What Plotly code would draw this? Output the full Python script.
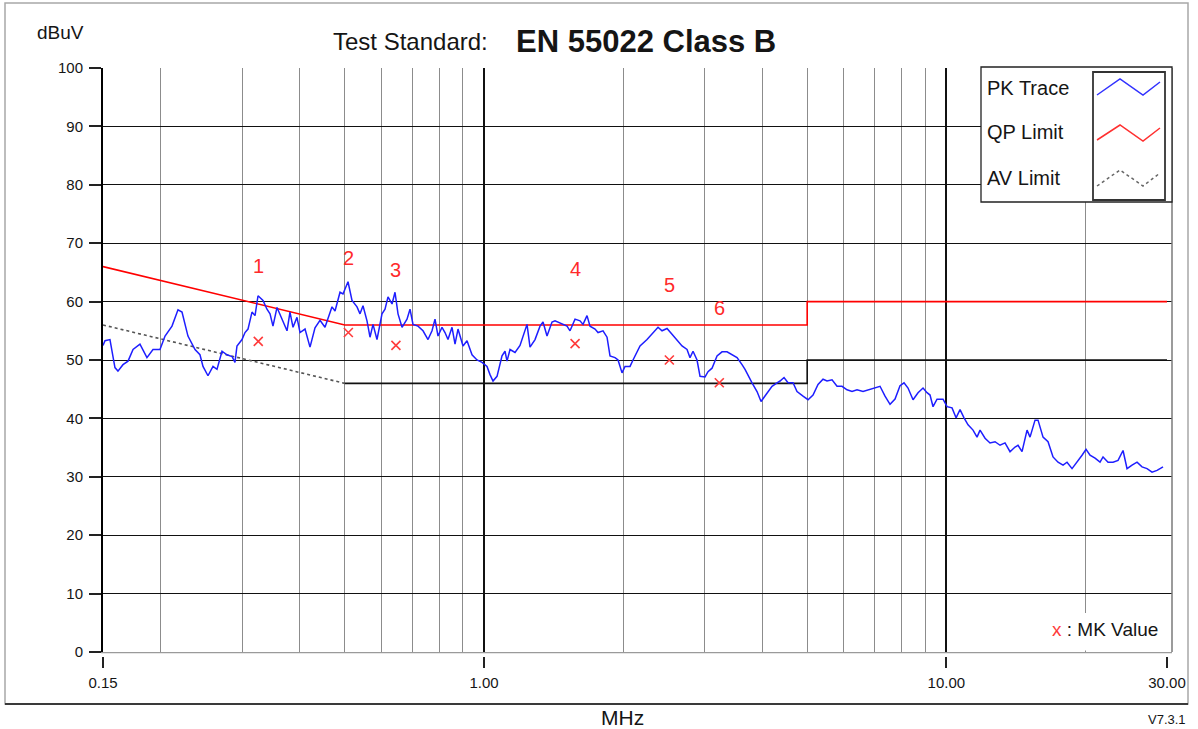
import math
import plotly.graph_objects as go

# ---------------- data ----------------
pk_freq_mhz = [
    0.15, 0.1515, 0.1553, 0.1592, 0.1616, 0.1657, 0.1699, 0.1742, 0.1803, 0.1867,
    0.1924, 0.1992, 0.2043, 0.2115, 0.2179, 0.2223, 0.2290, 0.2372, 0.2431, 0.2468,
    0.2530, 0.2594, 0.2646, 0.2713, 0.2781, 0.2852, 0.2894, 0.2923, 0.2997, 0.3042,
    0.3088, 0.3150, 0.3198, 0.3246, 0.3328, 0.3394, 0.3446, 0.3497, 0.3568, 0.3658,
    0.3750, 0.3806, 0.3864, 0.3941, 0.4001, 0.4102, 0.4205, 0.4311, 0.4420, 0.4531,
    0.4692, 0.4763, 0.4883, 0.4956, 0.5081, 0.5183, 0.5314, 0.5394, 0.5475, 0.5585,
    0.5669, 0.5755, 0.5870, 0.6018, 0.6109, 0.6201, 0.6326, 0.6421, 0.6518, 0.6649,
    0.6816, 0.6919, 0.7023, 0.7200, 0.7382, 0.7568, 0.7720, 0.7836, 0.7954, 0.8114,
    0.8236, 0.8360, 0.8529, 0.8657, 0.8787, 0.9009, 0.9190, 0.9422, 0.9659, 0.9903,
    1.0152, 1.0305, 1.0460, 1.0671, 1.0940, 1.1105, 1.1216, 1.1385, 1.1672, 1.1966,
    1.2146, 1.2390, 1.2577, 1.2894, 1.3219, 1.3418, 1.3688, 1.4033, 1.4244, 1.4750,
    1.5121, 1.5349, 1.5736, 1.6133, 1.6376, 1.6705, 1.6956, 1.7384, 1.7646, 1.8091,
    1.8455, 1.8732, 1.9205, 1.9494, 1.9886, 2.0185, 2.0694, 2.1006, 2.1751, 2.2523,
    2.3206, 2.3791, 2.4269, 2.4881, 2.5508, 2.6151, 2.6811, 2.7487, 2.7900, 2.8320,
    2.8890, 2.9325, 3.0064, 3.0517, 3.1131, 3.1916, 3.2720, 3.3545, 3.4391, 3.5258,
    3.6147, 3.6691, 3.7992, 3.8950, 3.9734, 4.0533, 4.1971, 4.3029, 4.3677, 4.4555,
    4.5452, 4.6598, 4.7535, 4.8977, 5.0212, 5.1478, 5.2775, 5.4106, 5.5194, 5.6586,
    5.8013, 5.9475, 6.0975, 6.2512, 6.4088, 6.6032, 6.7697, 7.0098, 7.1865, 7.3677,
    7.5534, 7.7438, 7.9391, 8.0988, 8.2617, 8.4700, 8.6835, 8.9025, 9.0816, 9.2183,
    9.3571, 9.5453, 9.8349, 10.033, 10.286, 10.493, 10.704, 10.919, 11.139, 11.420,
    11.649, 11.825, 12.123, 12.428, 12.742, 13.063, 13.392, 13.730, 14.076, 14.288,
    14.575, 14.943, 15.168, 15.550, 15.784, 16.182, 16.590, 17.008, 17.437, 17.877,
    18.236, 18.696, 19.167, 19.651, 20.046, 20.449, 20.965, 21.494, 21.817, 22.367,
    22.931, 23.509, 24.102, 24.587, 25.206, 25.842, 26.493, 27.161, 27.846, 28.548,
    29.414,
]
pk_level_dbuv = [
    52.5, 53.3, 53.5, 48.7, 48.1, 49.2, 49.8, 51.8, 52.7, 50.4,
    51.8, 51.8, 54.1, 55.8, 58.6, 58.2, 54.1, 51.8, 50.9, 48.9,
    47.3, 48.9, 48.4, 51.5, 50.9, 50.6, 49.6, 52.4, 53.5, 54.7,
    55.3, 58.2, 57.6, 61.0, 60.2, 58.7, 57.9, 55.8, 59.0, 57.0,
    55.0, 58.2, 55.6, 57.3, 54.7, 55.3, 52.2, 55.5, 56.8, 55.6,
    59.1, 58.4, 61.6, 61.3, 63.4, 60.2, 59.1, 57.9, 59.3, 56.7,
    53.9, 56.1, 53.5, 57.9, 58.7, 60.8, 59.6, 61.6, 57.9, 55.6,
    57.0, 58.7, 56.1, 55.8, 55.0, 53.5, 55.0, 57.0, 54.1, 55.6,
    54.7, 53.5, 55.6, 52.7, 55.3, 52.4, 53.3, 50.9, 50.0, 49.6,
    48.9, 47.5, 46.4, 47.2, 50.7, 51.5, 49.8, 51.8, 51.3, 52.5,
    54.1, 56.1, 52.2, 53.5, 55.8, 56.5, 54.1, 56.5, 56.7, 56.1,
    55.8, 55.0, 57.0, 56.7, 56.1, 57.6, 55.8, 55.3, 54.7, 55.0,
    53.9, 50.7, 50.4, 50.0, 47.8, 48.9, 48.9, 50.0, 52.4, 53.5,
    54.7, 55.6, 55.0, 55.4, 54.4, 53.3, 52.4, 51.8, 50.4, 51.5,
    50.0, 47.2, 47.1, 48.0, 48.6, 50.7, 51.4, 51.4, 50.9, 50.4,
    49.2, 48.4, 46.1, 44.6, 42.9, 43.8, 45.5, 46.1, 46.4, 47.0,
    46.1, 46.1, 44.6, 43.8, 43.2, 44.0, 45.8, 46.7, 46.4, 46.6,
    45.5, 45.5, 44.9, 44.6, 44.9, 44.6, 44.9, 45.2, 45.5, 43.8,
    42.4, 43.3, 45.6, 46.1, 45.2, 43.2, 44.4, 45.2, 44.4, 44.0,
    42.0, 43.3, 43.3, 42.0, 41.8, 40.1, 41.5, 40.1, 38.9, 38.0,
    36.8, 38.0, 36.6, 35.8, 36.0, 35.4, 35.8, 34.3, 35.1, 35.4,
    34.3, 38.0, 36.8, 39.7, 39.7, 36.8, 36.0, 33.4, 32.5, 32.0,
    32.5, 31.4, 32.5, 33.7, 34.7, 33.7, 33.2, 32.5, 33.4, 32.5,
    32.5, 32.8, 34.5, 31.4, 32.0, 32.5, 31.7, 31.4, 30.8, 31.1,
    31.7,
]

qp_freq_mhz = [0.15, 0.5, 5.0, 5.0, 30.0]
qp_level_dbuv = [66, 56, 56, 60, 60]

av_slope_freq_mhz = [0.15, 0.5]
av_slope_level_dbuv = [56, 46]
av_flat_freq_mhz = [0.5, 5.0, 5.0, 30.0]
av_flat_level_dbuv = [46, 46, 50, 50]

mk_freq_mhz = [0.325, 0.509, 0.645, 1.574, 2.517, 3.228]
mk_level_dbuv = [53.2, 54.7, 52.5, 52.8, 50.0, 46.1]
mk_labels = ["1", "2", "3", "4", "5", "6"]

x_tick_vals = [0.15, 1, 10, 30]
x_tick_text = ["0.15", "1.00", "10.00", "30.00"]
x_minor_vals = [0.2, 0.3, 0.4, 0.5, 0.6, 0.7, 0.8, 0.9,
                2, 3, 4, 5, 6, 7, 8, 9, 20]
x_major_grid_vals = [1, 10]
y_tick_vals = [0, 10, 20, 30, 40, 50, 60, 70, 80, 90, 100]

# ---------------- layout helpers ----------------
W, H = 1198, 729
L, R, T, B = 103, 1172, 68, 652
FONT = "Liberation Sans, Arial, sans-serif"
TXT = "#151515"


def px(x):
    return (x - L) / (R - L)


def py(y):
    return (B - y) / (B - T)


x_lo = math.log10(0.15)
x_hi = math.log10(30) + (R - 1167) / (1167 - L) * (math.log10(30) - math.log10(0.15))

fig = go.Figure()

fig.add_trace(go.Scatter(x=av_slope_freq_mhz, y=av_slope_level_dbuv, mode="lines",
                         line=dict(color="#555555", width=1.6, dash="dot"),
                         hoverinfo="skip"))
fig.add_trace(go.Scatter(x=av_flat_freq_mhz, y=av_flat_level_dbuv, mode="lines",
                         line=dict(color="#111111", width=1.6), hoverinfo="skip"))
fig.add_trace(go.Scatter(x=qp_freq_mhz, y=qp_level_dbuv, mode="lines",
                         line=dict(color="#ff0000", width=1.6), hoverinfo="skip"))
fig.add_trace(go.Scatter(x=pk_freq_mhz, y=pk_level_dbuv, mode="lines",
                         line=dict(color="rgb(30,30,255)", width=1.5)))
fig.add_trace(go.Scatter(x=mk_freq_mhz, y=mk_level_dbuv, mode="markers",
                         xaxis="x2",
                         marker=dict(symbol="x-thin", size=9,
                                     line=dict(color="#ff3b3b", width=1.6))))

annotations = []
for f, v, lab in zip(mk_freq_mhz, mk_level_dbuv, mk_labels):
    annotations.append(dict(xref="x", yref="y", x=math.log10(f), y=v, yshift=75,
                            text=lab, showarrow=False,
                            font=dict(family=FONT, size=20, color="#ff2a2a")))


def ann(x, y, text, size, anchor="left", bold=False, color=TXT):
    t = f"<b>{text}</b>" if bold else text
    return dict(xref="paper", yref="paper", x=px(x), y=py(y), text=t,
                showarrow=False, xanchor=anchor, yanchor="middle",
                font=dict(family=FONT, size=size, color=color))


annotations += [
    ann(35, 33, "dBuV", 19),
    ann(331, 42, "Test Standard:", 24),
    ann(514, 42, "EN 55022 Class B", 31, bold=True),
    ann(985, 88, "PK Trace", 20),
    ann(985, 132, "QP Limit", 20),
    ann(985, 178, "AV Limit", 20),
    ann(1160, 629, "<span style='color:#ff3b3b'>x</span> : MK Value", 19, anchor="right"),
    ann(622, 718, "MHz", 21, anchor="center"),
    ann(1188, 719, "V7.3.1", 13, anchor="right"),
]


def zig(points):
    return "M " + " L ".join(f"{px(a)},{py(b)}" for a, b in points)


shapes = [
    # outer frame
    dict(type="rect", xref="paper", yref="paper", x0=px(5), x1=px(1188),
         y0=py(704), y1=py(3), line=dict(color="#a8a8a8", width=1.5), layer="below"),
    dict(type="line", xref="paper", yref="paper", x0=px(5), x1=px(1188),
         y0=py(704), y1=py(704), line=dict(color="#3a3a3a", width=2)),
    # right plot border
    dict(type="line", xref="paper", yref="paper", x0=1, x1=1, y0=0, y1=1,
         line=dict(color="#7a7a7a", width=1.5), layer="above"),
    # gap between axis and x ticks
    dict(type="rect", xref="paper", yref="paper", x0=px(90), x1=px(1185),
         y0=py(657), y1=py(653.2), fillcolor="white", line=dict(width=0), layer="above"),
    # legend box
    dict(type="rect", xref="paper", yref="paper", x0=px(981), x1=px(1172),
         y0=py(202), y1=py(67), fillcolor="white",
         line=dict(color="#222222", width=1.3), layer="above"),
    dict(type="rect", xref="paper", yref="paper", x0=px(1093), x1=px(1165),
         y0=py(200), y1=py(72), line=dict(color="#333333", width=1.8), layer="above"),
    dict(type="path", xref="paper", yref="paper",
         path=zig([(1097, 95), (1120, 79), (1143, 95), (1160, 82)]),
         line=dict(color="rgb(50,50,255)", width=1.5), layer="above"),
    dict(type="path", xref="paper", yref="paper",
         path=zig([(1097, 140), (1120, 125), (1143, 141), (1160, 128)]),
         line=dict(color="#ff3030", width=1.5), layer="above"),
    dict(type="path", xref="paper", yref="paper",
         path=zig([(1097, 186), (1120, 170), (1143, 186), (1160, 173)]),
         line=dict(color="#666666", width=1.5, dash="dot"), layer="above"),
    # MK value box
    dict(type="rect", xref="paper", yref="paper", x0=px(1032), x1=px(1170.5),
         y0=py(650.5), y1=py(613), fillcolor="white", line=dict(width=0), layer="above"),
]

fig.update_layout(
    width=W, height=H,
    margin=dict(l=L, r=W - R, t=T, b=H - B, pad=0),
    paper_bgcolor="white", plot_bgcolor="white",
    showlegend=False,
    font=dict(family=FONT, color=TXT),
    xaxis=dict(type="log", range=[x_lo, x_hi], tickmode="array",
               tickvals=x_tick_vals, ticktext=x_tick_text,
               ticks="outside", ticklen=14, tickwidth=1.5, tickcolor="#222222",
               ticklabelstandoff=2,
               tickfont=dict(family=FONT, size=15, color=TXT),
               showgrid=False, zeroline=False,
               showline=True, linecolor="#9a9a9a", linewidth=2,
               minor=dict(tickmode="array", tickvals=x_minor_vals, showgrid=True,
                          gridcolor="#8c8c8c", gridwidth=1.3, ticks="")),
    xaxis2=dict(type="log", overlaying="x", matches="x", anchor="y",
                tickmode="array", tickvals=x_major_grid_vals,
                showgrid=True, gridcolor="#111111", gridwidth=1.5,
                showticklabels=False, ticks="", showline=False, zeroline=False),
    yaxis=dict(range=[0, 100], tickmode="array", tickvals=y_tick_vals,
               ticks="outside", ticklen=12, tickwidth=1.5, tickcolor="#222222",
               ticklabelstandoff=3,
               tickfont=dict(family=FONT, size=15, color=TXT),
               showgrid=True, gridcolor="#111111", gridwidth=1.3,
               zeroline=False, showline=True, linecolor="#000000", linewidth=2),
    annotations=annotations,
    shapes=shapes,
)

fig.write_html("out.html", config={"displayModeBar": False},
               post_script="document.body.style.margin='0';")
